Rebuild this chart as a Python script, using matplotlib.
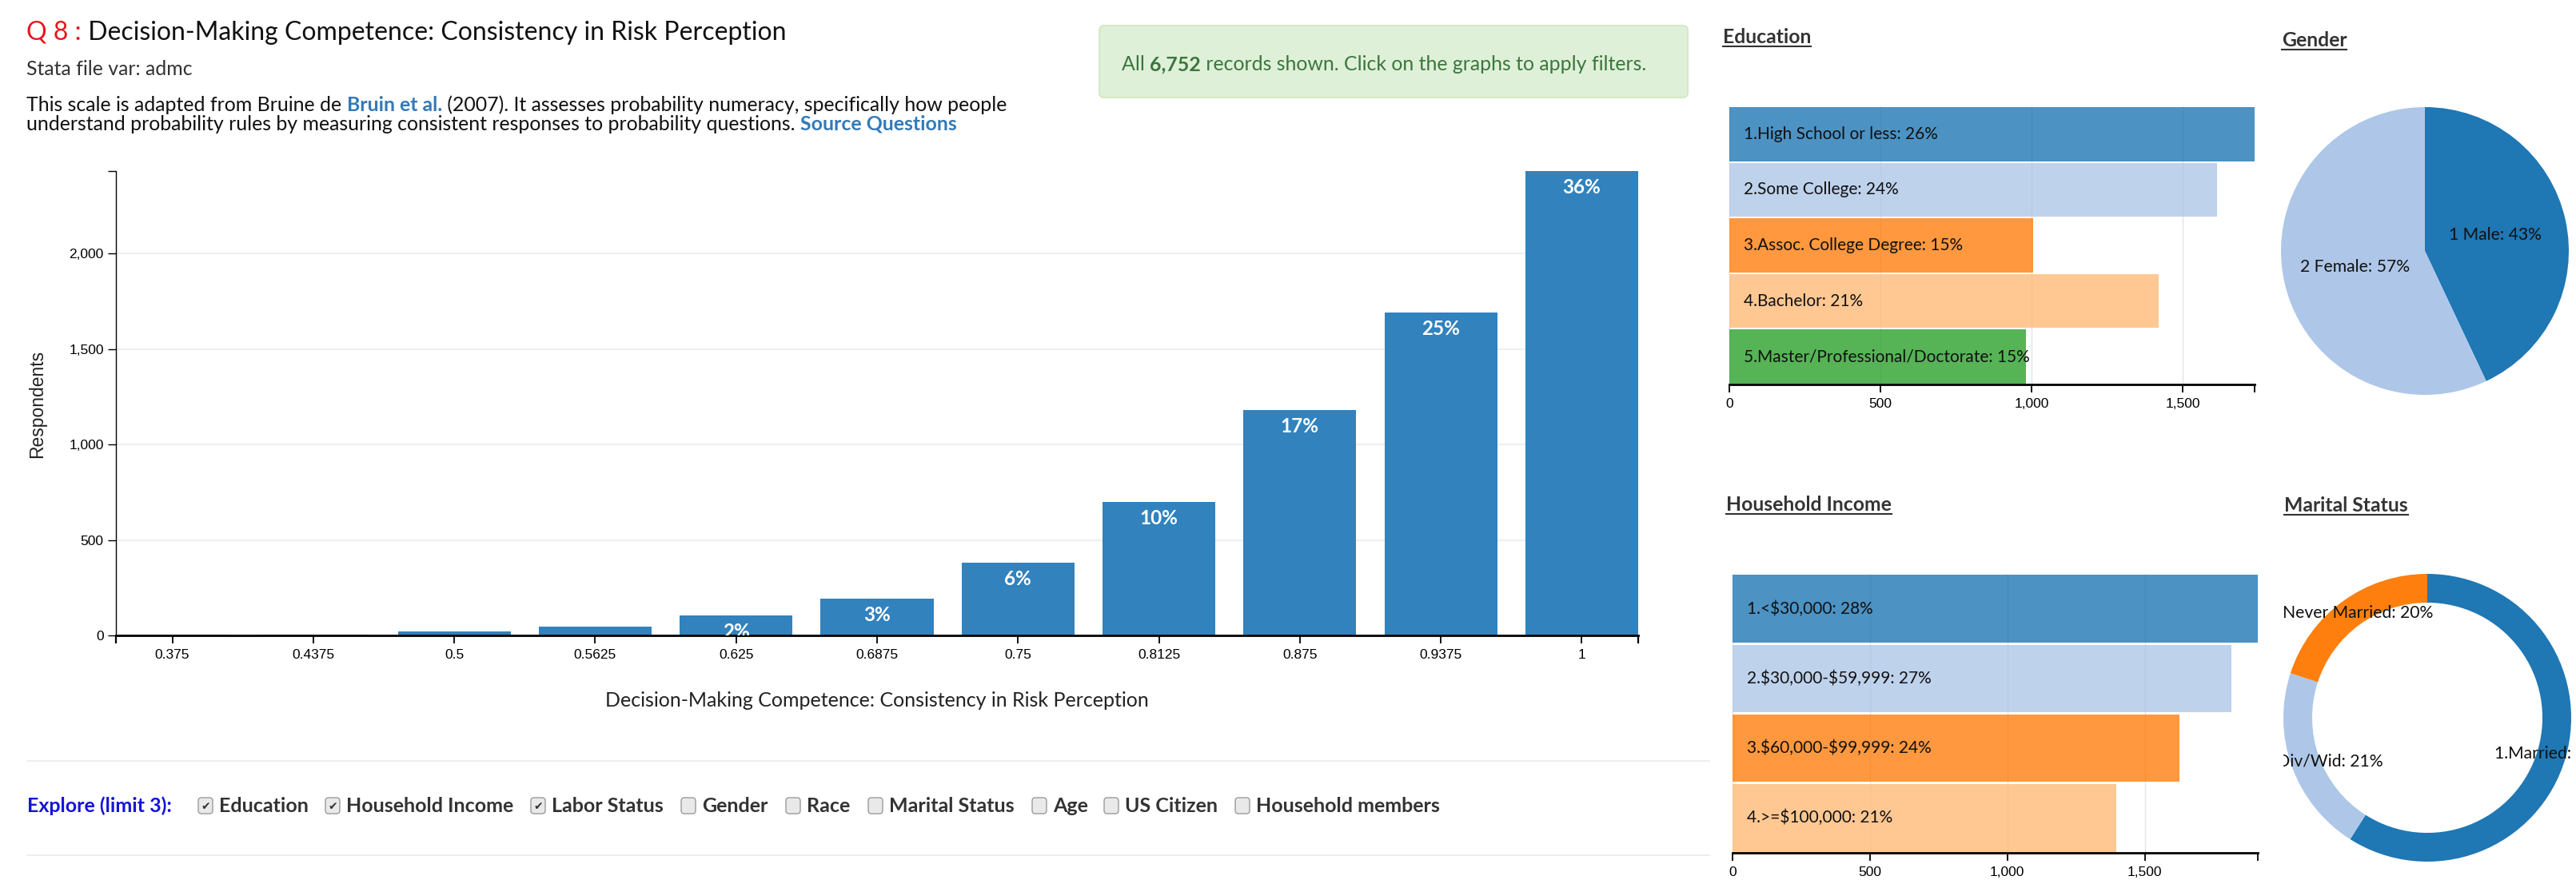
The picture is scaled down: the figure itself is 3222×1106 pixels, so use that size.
import numpy as np
import matplotlib
import matplotlib.pyplot as plt
from matplotlib.patches import FancyBboxPatch
from matplotlib.ticker import FuncFormatter

matplotlib.rcParams['font.family'] = ['Lato', 'DejaVu Sans']
matplotlib.rcParams['text.parse_math'] = False

W, H = 3223, 1106

# main chart: respondents per consistency score
scores = ['0.375', '0.4375', '0.5', '0.5625', '0.625', '0.6875', '0.75',
          '0.8125', '0.875', '0.9375', '1']
respondents = [3, 5, 19, 45, 103, 193, 382, 698, 1181, 1692, 2431]

edu_labels = ['1.High School or less', '2.Some College', '3.Assoc. College Degree',
              '4.Bachelor', '5.Master/Professional/Doctorate']
edu_counts = [1737, 1613, 1004, 1420, 981]

inc_labels = ['1.<$30,000', '2.$30,000-$59,999', '3.$60,000-$99,999', '4.>=$100,000']
inc_counts = [1911, 1815, 1627, 1396]

gender_labels = ['1 Male', '2 Female']
gender_counts = [2903, 3849]

marital_labels = ['1.Married', '2.Sep/Div/Wid', '3.Never Married']
marital_counts = [3984, 1418, 1350]

explore_items = ['Education', 'Household Income', 'Labor Status', 'Gender', 'Race',
                 'Marital Status', 'Age', 'US Citizen', 'Household members']
explore_checked = [True, True, True, False, False, False, False, False, False]
explore_box_x = [248, 407, 664, 852, 983, 1086, 1291, 1381, 1545]

cat20 = ['#1f77b4', '#aec7e8', '#ff7f0e', '#ffbb78', '#2ca02c']
tick_font = 'Liberation Sans'
body = 17.9

fig = plt.figure(figsize=(W / 100, H / 100), dpi=100)


def px_ax(x0, y0, x1, y1):
    # axes from pixel box, origin top-left
    return fig.add_axes([x0 / W, 1 - y1 / H, (x1 - x0) / W, (y1 - y0) / H])


# overlay for page text / boxes, in pixel coords
ov = px_ax(0, 0, W, H)
ov.set_xlim(0, W)
ov.set_ylim(H, 0)
ov.axis('off')


def after(prev, s, **kw):
    return ov.annotate(s, xy=(1, 0), xycoords=prev, va='bottom', ha='left', **kw)


# header
t = ov.text(33, 50, 'Q 8 :', color='#e8141c', fontsize=23, va='baseline')
after(t, ' Decision-Making Competence: Consistency in Risk Perception',
      color='#111111', fontsize=23)
ov.text(33, 94, 'Stata file var: admc', color='#333333', fontsize=body, va='baseline')
t = ov.text(33, 139, 'This scale is adapted from Bruine de ', color='#111111',
            fontsize=body, va='baseline')
t = after(t, 'Bruin et al.', color='#337ab7', fontsize=body, fontweight='bold')
after(t, ' (2007). It assesses probability numeracy, specifically how people',
      color='#111111', fontsize=body)
t = ov.text(33, 163, 'understand probability rules by measuring consistent responses '
            'to probability questions. ', color='#111111', fontsize=body, va='baseline')
after(t, 'Source Questions', color='#337ab7', fontsize=body, fontweight='bold')

# info box
ov.add_patch(FancyBboxPatch((1375, 32), 736, 90, boxstyle='round,pad=0,rounding_size=6',
                            fc='#dff0d8', ec='#d6e9c6', lw=1.5))
total = sum(respondents)
t = ov.text(1403, 88, 'All ', color='#3c763d', fontsize=body, va='baseline')
t = after(t, f'{total:,}', color='#3c763d', fontsize=body, fontweight='bold')
after(t, ' records shown. Click on the graphs to apply filters.', color='#3c763d',
      fontsize=body)

# explore row
for yy in [952, 1070]:
    ov.plot([34, 2138], [yy, yy], color='#eeeeee', lw=1.5)
ov.text(34, 1008, 'Explore (limit 3):', color='#1414d8', fontsize=18, fontweight='bold',
        va='center')
for name, chk, bx in zip(explore_items, explore_checked, explore_box_x):
    ov.add_patch(FancyBboxPatch((bx, 998), 18, 20, boxstyle='round,pad=0,rounding_size=4',
                                fc='#e9e9e9', ec='#9a9a9a', lw=1))
    if chk:
        ov.text(bx + 9, 1009, '\u2714', family='DejaVu Sans', fontsize=10,
                color='#333333', ha='center', va='center')
    ov.text(bx + 26, 1008, name, color='#333333', fontsize=18, fontweight='bold',
            va='center')

# panel titles with underline
fig.canvas.draw()
for label, x, yb in [('Education', 2155, 54), ('Gender', 2854, 58),
                     ('Household Income', 2159, 639), ('Marital Status', 2857, 640)]:
    tt = ov.text(x, yb, label, color='#333333', fontsize=17.8, fontweight='bold',
                 va='baseline')
    bb = tt.get_window_extent(fig.canvas.get_renderer())
    ov.plot([x, x + bb.width], [yb + 4, yb + 4], color='#333333', lw=1.5)

# main bar chart
ax = px_ax(145, 214, 2049, 795)
xpos = np.arange(len(scores))
ax.bar(xpos, respondents, width=0.8, color='#3182bd', zorder=2)
ax.set_xlim(-0.4, len(scores) - 0.6)
ax.set_ylim(0, max(respondents))
ax.set_xticks(xpos, scores)
ax.set_xticks([-0.4, len(scores) - 0.6], minor=True)
ax.set_yticks([0, 500, 1000, 1500, 2000])
ax.set_yticks([max(respondents)], minor=True)
ax.yaxis.set_major_formatter(FuncFormatter(lambda v, p: f'{int(v):,}'))
ax.grid(axis='y', color='#eeeeee', lw=1.5, zorder=0)
for s in ['top', 'right']:
    ax.spines[s].set_visible(False)
ax.spines['bottom'].set_linewidth(2)
ax.spines['left'].set_linewidth(1)
ax.tick_params(axis='x', which='both', length=7, width=1.3, pad=5)
ax.tick_params(axis='y', which='both', length=7, width=1, pad=4)
ax.tick_params(axis='x', which='minor', width=1.6)
for lab in ax.get_xticklabels() + ax.get_yticklabels():
    lab.set_family(tick_font)
    lab.set_fontsize(12.5)
for i, v in enumerate(respondents):
    pct = round(100 * v / total)
    if pct >= 2:
        ax.annotate(f'{pct}%', (i, v), xytext=(0, -6.5), textcoords='offset points',
                    ha='center', va='top', color='white', fontsize=17.5,
                    fontweight='bold', clip_on=True)
ov.text(1097, 877, 'Decision-Making Competence: Consistency in Risk Perception',
        ha='center', va='center', fontsize=18, color='#222222')
ov.text(47, 505, 'Respondents', rotation=90, ha='center', va='center',
        family=tick_font, fontsize=16.5, color='#222222')


def hbar_panel(box, labels, counts):
    a = px_ax(*box)
    yy = np.arange(len(counts))
    a.barh(yy, counts, height=0.97, color=cat20[:len(counts)], alpha=0.8, zorder=2)
    a.set_ylim(len(counts) - 0.5, -0.5)
    a.set_xlim(0, max(counts))
    a.set_xticks([0, 500, 1000, 1500])
    a.set_xticks([max(counts)], minor=True)
    a.xaxis.set_major_formatter(FuncFormatter(lambda v, p: f'{int(v):,}'))
    a.set_yticks([])
    a.grid(axis='x', color='#e4e4e4', lw=1, zorder=0)
    for s in ['top', 'right', 'left']:
        a.spines[s].set_visible(False)
    a.spines['bottom'].set_linewidth(2)
    a.tick_params(axis='x', which='both', length=7, width=1.3, pad=5)
    for lab in a.get_xticklabels():
        lab.set_family(tick_font)
        lab.set_fontsize(12.5)
    tot = sum(counts)
    for i, (lab, v) in enumerate(zip(labels, counts)):
        a.annotate(f'{lab}: {round(100 * v / tot)}%', (0, i), xytext=(13, 0),
                   textcoords='offset points', va='center', ha='left',
                   fontsize=15, color='#111111', zorder=3)
    return a


hbar_panel((2163, 133, 2820, 481), edu_labels, edu_counts)
hbar_panel((2167, 718, 2824, 1067), inc_labels, inc_counts)


def pie_panel(box, labels, counts, colors, width, r_lab):
    a = px_ax(*box)
    wedges, _ = a.pie(counts, colors=colors, startangle=90, counterclock=False,
                      radius=1, wedgeprops=dict(width=width, lw=0))
    a.set_xlim(-1, 1)
    a.set_ylim(-1, 1)
    a.set_aspect('equal')
    a.axis('off')
    tot = sum(counts)
    for w, lab, v in zip(wedges, labels, counts):
        mid = np.deg2rad((w.theta1 + w.theta2) / 2)
        a.text(r_lab * np.cos(mid), r_lab * np.sin(mid), f'{lab}: {round(100 * v / tot)}%',
               ha='center', va='center', fontsize=15.2, color='#111111', clip_on=True)
    return a


pie_panel((2853, 134, 3213, 494), gender_labels, gender_counts, cat20[:2], 1, 0.5)
pie_panel((2856, 718, 3216, 1078), marital_labels, marital_counts,
          ['#1f77b4', '#aec7e8', '#ff7f0e'], 0.2, 0.9)

fig.savefig('out.png', dpi=100)
